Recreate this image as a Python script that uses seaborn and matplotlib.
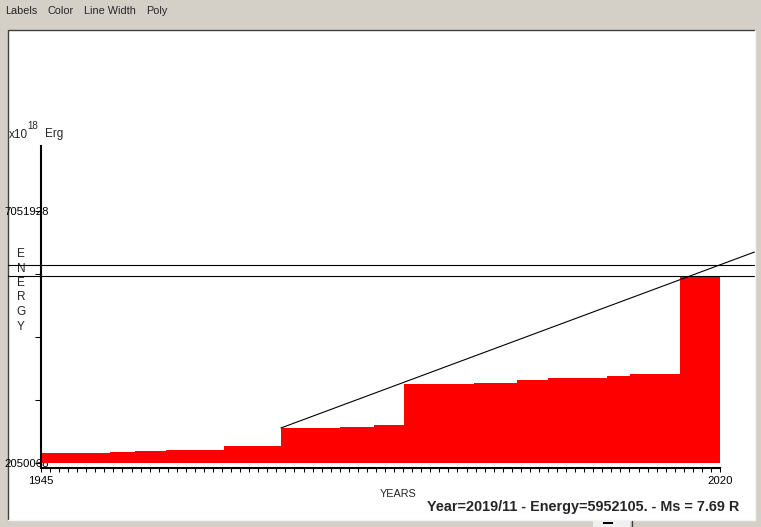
import numpy as np
import pandas as pd
import seaborn as sns
import matplotlib.pyplot as plt
from matplotlib.patches import Rectangle

# step profile of cumulative energy (x10^18 Erg)
step_years = [1945, 1952.6, 1955.4, 1958.8, 1965.2, 1971.5, 1978.0, 1981.8,
              1985.1, 1992.8, 1997.6, 2001.0, 2007.5, 2010.1, 2015.6, 2020]
step_energy = [2249000, 2268000, 2294000, 2314000, 2388000, 2745000, 2765000, 2804000,
               3618000, 3638000, 3697000, 3747000, 3777000, 3817000, 5752000, 5752000]

# trend line and the two level lines
trend_years = [1971.5, 2023.8]
trend_energy = [2745000, 6237000]
level_lines = [5986000, 5752000]

base_energy = 2050068
ytick_values = [2050068, 3300533, 4550998, 5801463, 7051928]
ytick_labels = ["2050068", "", "", "", "7051928"]
xtick_years = list(range(1945, 2021))
xtick_labels = ["1945"] + [""] * 74 + ["2020"]

menu_items = ["Labels", "Color", "Line Width", "Poly"]
menu_x = [5, 48, 84, 146]
status_text = "Year=2019/11 - Energy=5952105. - Ms = 7.69 R"

sns.set_style("white")
plt.rcParams["font.family"] = ["Liberation Sans", "DejaVu Sans"]

W, H = 761, 527
fig = plt.figure(figsize=(W / 100, H / 100), dpi=100, facecolor="#d4d0c8")

# window background in pixel coordinates
bg = fig.add_axes([0, 0, 1, 1])
bg.set_xlim(0, W)
bg.set_ylim(H, 0)
bg.axis("off")
bg.add_patch(Rectangle((7.5, 29.5), 747, 490, facecolor="white", edgecolor="none"))
bg.plot([7.5, 7.5, 754.5], [519.5, 29.5, 29.5], color="#404040", lw=1)
bg.plot([7.5, 754.5, 754.5], [519.5, 519.5, 29.5], color="#f4f4f4", lw=1)
bg.add_patch(Rectangle((593, 521), 37, 6, facecolor="#f0f0f0", edgecolor="none"))
bg.add_patch(Rectangle((603, 522), 10, 2, facecolor="black", edgecolor="none"))
bg.plot([632, 632], [521, 527], color="#404040", lw=1)

for name, x in zip(menu_items, menu_x):
    bg.text(x, 14, name, fontsize=7.8, va="baseline", ha="left")

bg.text(9, 138, "x10", fontsize=8.5, va="baseline")
bg.text(27.5, 129, "18", fontsize=7, va="baseline")
bg.text(45.5, 137.5, "Erg", fontsize=8.5, va="baseline")
for i, ch in enumerate("ENERGY"):
    bg.text(21, 254 + i * 14.5, ch, fontsize=8.5, ha="center", va="center")
bg.text(380, 497, "YEARS", fontsize=7.8, va="baseline")
bg.text(427, 510.5, status_text, fontsize=10.4, fontweight="bold", va="baseline")

# plot area
left, right, top, bottom = 41, 720, 146, 467.5
ax = fig.add_axes([left / W, (H - bottom) / H, (right - left) / W, (bottom - top) / H])
ax.patch.set_visible(False)

ax.fill_between(step_years, base_energy, step_energy, step="post", color="#ff0000", lw=0)

trend = pd.DataFrame({"year": trend_years, "energy": trend_energy})
sns.lineplot(data=trend, x="year", y="energy", ax=ax, color="black", lw=0.8, clip_on=False)

x0 = (8 - left) / (right - left)
x1 = (754 - left) / (right - left)
for lv in level_lines:
    ax.axhline(lv, xmin=x0, xmax=x1, color="black", lw=0.8, clip_on=False)

ax.set_xlim(1945, 2020)
ax.set_ylim(1960750, 8342000)
ax.set_xticks(xtick_years, labels=xtick_labels)
ax.set_yticks(ytick_values, labels=ytick_labels)
ax.tick_params(axis="x", bottom=True, direction="out", length=3, width=0.75, pad=3,
               labelsize=8.2, colors="black")
ax.tick_params(axis="y", left=True, direction="out", length=4, width=0.75, pad=-9.8,
               labelsize=8.2, colors="black")
ax.set_xlabel("")
ax.set_ylabel("")

for s in ["top", "right"]:
    ax.spines[s].set_visible(False)
for s in ["left", "bottom"]:
    ax.spines[s].set_color("black")
    ax.spines[s].set_linewidth(1.5)

fig.savefig("out.png", dpi=100, facecolor=fig.get_facecolor())
